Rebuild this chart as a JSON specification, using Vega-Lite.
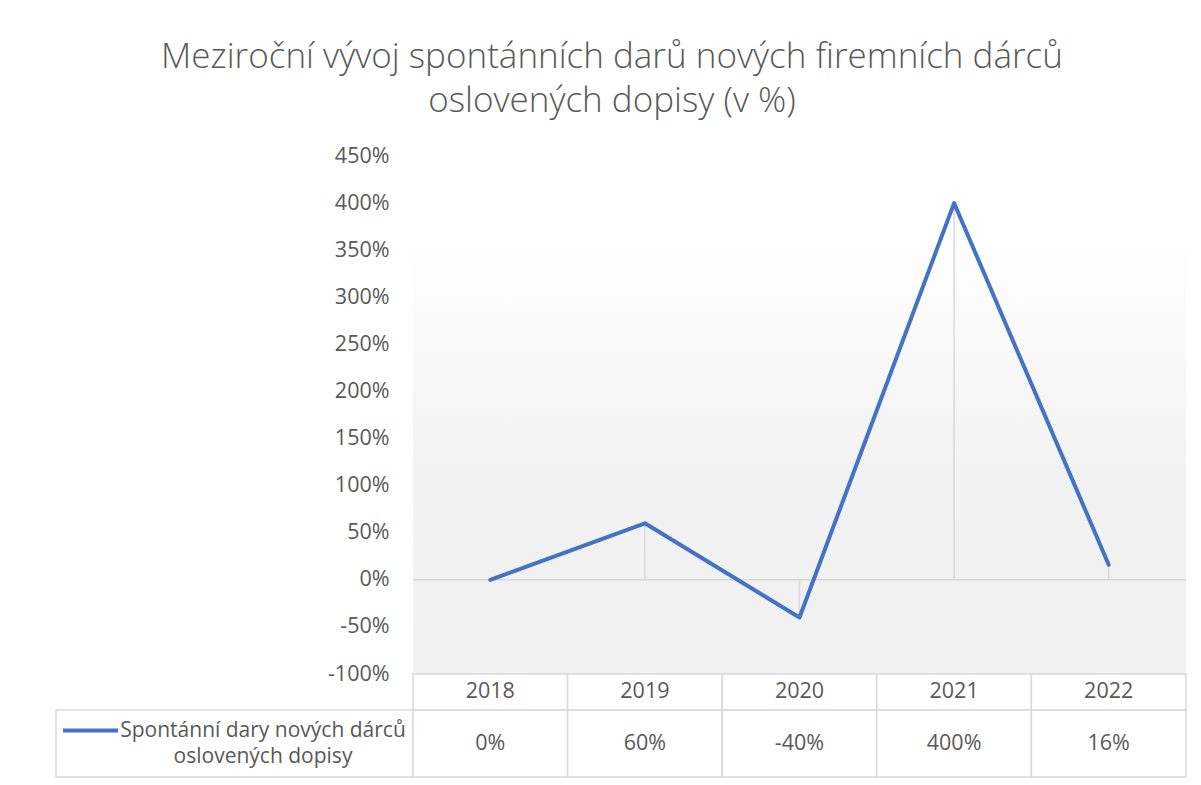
{
  "$schema": "https://vega.github.io/schema/vega-lite/v6.json",
  "background": "white",
  "padding": {"left": 55, "top": 40, "right": 0, "bottom": 0},
  "autosize": {"type": "pad"},
  "title": {
    "text": ["Meziroční vývoj spontánních darů nových firemních dárců", "oslovených dopisy (v %)"],
    "font": "Open Sans",
    "fontSize": 35,
    "fontWeight": 300,
    "color": "#595959",
    "anchor": "middle",
    "lineHeight": 44,
    "offset": 26,
    "dx": -9
  },
  "datasets": {
    "d": [
      {"year": "2018", "value": 0, "series": "Spontánní dary nových dárců oslovených dopisy"},
      {"year": "2019", "value": 0.6, "series": "Spontánní dary nových dárců oslovených dopisy"},
      {"year": "2020", "value": -0.4, "series": "Spontánní dary nových dárců oslovených dopisy"},
      {"year": "2021", "value": 4, "series": "Spontánní dary nových dárců oslovených dopisy"},
      {"year": "2022", "value": 0.16, "series": "Spontánní dary nových dárců oslovených dopisy"}
    ]
  },
  "columns": 2,
  "spacing": 0,
  "bounds": "flush",
  "concat": [
    {"width": 357, "height": 518, "data": {"values": []}, "mark": "point"},
    {
      "width": 773,
      "height": 518,
      "layer": [
        {
          "data": {"values": [{"area": "plot"}]},
          "mark": {
            "type": "rect",
            "fill": {
              "gradient": "linear", "x1": 0, "y1": 0, "x2": 0, "y2": 1,
              "stops": [
                {"offset": 0, "color": "#ffffff"},
                {"offset": 0.15, "color": "#ffffff"},
                {"offset": 0.6, "color": "#f2f2f2"},
                {"offset": 1, "color": "#f1f1f1"}
              ]
            }
          },
          "encoding": {
            "y": {"datum": 4.5, "type": "quantitative"},
            "y2": {"datum": -1}
          }
        },
        {
          "data": {"values": [{"area": "zero"}]},
          "mark": {"type": "rule", "color": "#d9d9d9", "strokeWidth": 1.5},
          "encoding": {"y": {"datum": 0, "type": "quantitative"}}
        },
        {
          "data": {"name": "d"},
          "mark": {"type": "rule", "color": "#d9d9d9", "strokeWidth": 1.5},
          "encoding": {
            "x": {"field": "year", "type": "nominal", "axis": null},
            "y": {"field": "value", "type": "quantitative"},
            "y2": {"datum": 0}
          }
        },
        {
          "data": {"name": "d"},
          "mark": {"type": "line", "strokeWidth": 4, "strokeCap": "round", "strokeJoin": "round"},
          "encoding": {
            "x": {"field": "year", "type": "nominal", "axis": null},
            "y": {
              "field": "value",
              "type": "quantitative",
              "scale": {"domain": [-1, 4.5], "nice": false, "zero": false},
              "axis": {
                "values": [-1, -0.5, 0, 0.5, 1, 1.5, 2, 2.5, 3, 3.5, 4, 4.5],
                "format": ".0%",
                "grid": false,
                "domain": false,
                "ticks": false,
                "labelFont": "Open Sans",
                "labelFontSize": 21.5,
                "labelColor": "#595959",
                "labelPadding": 24,
                "title": null
              }
            },
            "color": {
              "field": "series",
              "type": "nominal",
              "scale": {"range": ["#4472C4"]},
              "legend": {
                "orient": "none",
                "legendX": 5,
                "legendY": 545,
                "title": null,
                "symbolType": "stroke",
                "symbolStrokeWidth": 4,
                "symbolSize": 3025,
                "labelExpr": "['Spontánní dary nových dárců', 'oslovených dopisy']",
                "labelFont": "Open Sans",
                "labelFontSize": 21,
                "labelColor": "#595959",
                "labelAlign": "center",
                "labelOffset": 143,
                "labelLimit": 500
              }
            }
          }
        }
      ]
    },
    {"width": 357, "height": 36, "data": {"values": []}, "mark": "point"},
    {
      "width": 773,
      "height": 36,
      "data": {"name": "d"},
      "layer": [
        {
          "mark": {"type": "rect", "fill": "white", "stroke": "#d9d9d9", "strokeWidth": 1.5},
          "encoding": {
            "x": {"field": "year", "type": "nominal", "scale": {"paddingInner": 0, "paddingOuter": 0}, "axis": null}
          }
        },
        {
          "mark": {"type": "text", "font": "Open Sans", "fontSize": 21.5, "color": "#595959"},
          "encoding": {
            "x": {"field": "year", "type": "nominal", "axis": null},
            "text": {"field": "year", "type": "nominal"}
          }
        }
      ]
    },
    {
      "width": 357,
      "height": 67,
      "data": {"values": []},
      "mark": "point",
      "view": {"stroke": "#d9d9d9", "strokeWidth": 1.5}
    },
    {
      "width": 773,
      "height": 67,
      "data": {"name": "d"},
      "layer": [
        {
          "mark": {"type": "rect", "fill": "white", "stroke": "#d9d9d9", "strokeWidth": 1.5},
          "encoding": {
            "x": {"field": "year", "type": "nominal", "scale": {"paddingInner": 0, "paddingOuter": 0}, "axis": null}
          }
        },
        {
          "mark": {"type": "text", "font": "Open Sans", "fontSize": 21.5, "color": "#595959"},
          "encoding": {
            "x": {"field": "year", "type": "nominal", "axis": null},
            "text": {"field": "value", "type": "quantitative", "format": ".0%"}
          }
        }
      ]
    }
  ],
  "config": {
    "view": {"stroke": null},
    "font": "Open Sans",
    "style": {"guide-label": {"lineHeight": 26}},
    "locale": {
      "number": {"decimal": ".", "thousands": ",", "grouping": [3], "currency": ["$", ""], "minus": "-"}
    }
  }
}
